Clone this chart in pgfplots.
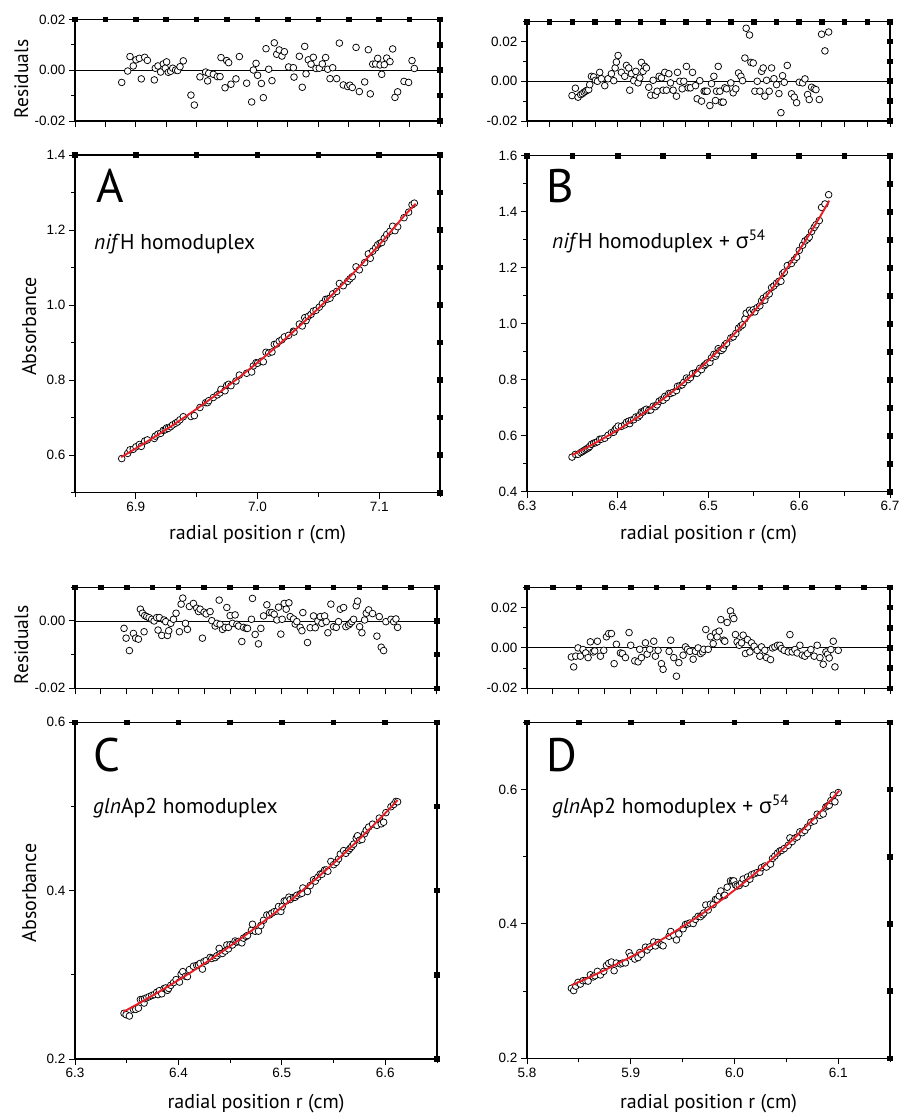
\documentclass[border=0pt]{standalone}
\usepackage{pgfplots}
\pgfplotsset{compat=1.18}
\usepackage{fontspec}
\setmainfont{Liberation Sans}
\newfontfamily\lab{PT Sans}
\newfontfamily\grk{Open Sans}
\definecolor{fitred}{RGB}{232,30,38}
\pgfplotsset{
 base/.style={scale only axis, anchor=south west, axis line style={line width=1.2pt},
   tick style={line width=1pt,black}, tick align=outside, major tick length=6pt, minor tick length=4pt,
   xtick pos=left, ytick pos=left, ticklabel style={font=\fontsize{13.5}{14}\selectfont},
   scaled x ticks=false, scaled y ticks=false, clip marker paths=true},
 sq/.style={scale only axis, anchor=south west, axis line style={draw=none},
   xtick pos=right, ytick pos=right, tick align=center, major tick length=5.6pt,
   tick style={line width=5.6pt,black}, xticklabels={}, yticklabels={}, minor tick num=0,
   scaled x ticks=false, scaled y ticks=false},
 dat/.style={only marks, mark=*, mark size=3.35pt, mark options={fill=white, draw=black, line width=0.75pt}},
 fit/.style={fitred, line width=1.9pt, smooth, no marks},
 zero/.style={black, line width=0.9pt, no marks}
}
\begin{document}
\begin{tikzpicture}
\useasboundingbox (0pt,0pt) rectangle (901pt,-1114pt);
% ================= A residuals
\begin{axis}[base, at={(75pt,-121pt)}, width=365pt, height=101.5pt, xmin=6.85, xmax=7.15, ymin=-0.02, ymax=0.02,
 xtick={6.85,6.875,6.9,6.925,6.95,6.975,7.0,7.025,7.05,7.075,7.1,7.125,7.15}, xticklabels={},
 ytick={-0.02,0,0.02}, yticklabels={-0.02,0.00,0.02}, minor ytick={-0.01,0.01}]
\addplot[zero] coordinates {(6.85,0) (7.15,0)};
\addplot[dat] coordinates {(6.8884,-0.0048) (6.8933,-0.0003) (6.8952,0.0054) (6.8979,0.0017) (6.9001,0.0041) (6.9029,0.0047) (6.9045,-0.0034) (6.9073,0.0051) (6.9095,0.0039) (6.9152,-0.0038) (6.9160,0.0008) (6.9182,0.0017) (6.9204,-0.0007) (6.9226,0.0025) (6.9242,0.0008) (6.9253,0.0033) (6.9267,-0.0008) (6.9286,-0.0004) (6.9303,0.0008) (6.9327,0.0001) (6.9344,-0.0001) (6.9363,0.0014) (6.9390,0.0037) (6.9453,-0.0098) (6.9481,-0.0137) (6.9527,-0.0026) (6.9574,-0.0007) (6.9590,-0.0042) (6.9599,-0.0012) (6.9637,-0.0016) (6.9670,-0.0025) (6.9692,-0.0025) (6.9700,0.0050) (6.9733,-0.0069) (6.9747,0.0038) (6.9763,0.0030) (6.9782,-0.0055) (6.9823,-0.0034) (6.9851,0.0054) (6.9911,-0.0051) (6.9952,-0.0125) (6.9966,0.0001) (6.9988,0.0027) (7.0001,-0.0020) (7.0032,-0.0052) (7.0048,-0.0108) (7.0070,0.0085) (7.0092,0.0004) (7.0119,-0.0041) (7.0138,0.0108) (7.0158,0.0063) (7.0179,0.0080) (7.0201,0.0056) (7.0221,0.0073) (7.0256,0.0013) (7.0295,0.0010) (7.0300,-0.0027) (7.0344,0.0055) (7.0368,-0.0067) (7.0388,0.0094) (7.0399,-0.0014) (7.0418,0.0041) (7.0440,0.0024) (7.0459,0.0051) (7.0481,0.0007) (7.0508,0.0008) (7.0533,0.0025) (7.0560,0.0050) (7.0577,0.0004) (7.0596,-0.0033) (7.0618,0.0010) (7.0651,-0.0033) (7.0673,0.0107) (7.0705,-0.0058) (7.0741,-0.0064) (7.0760,-0.0059) (7.0779,-0.0068) (7.0810,0.0090) (7.0837,-0.0084) (7.0881,-0.0046) (7.0911,0.0081) (7.0927,-0.0093) (7.0947,0.0024) (7.0971,0.0025) (7.0988,0.0047) (7.1007,0.0021) (7.1021,-0.0016) (7.1042,0.0022) (7.1062,0.0048) (7.1089,0.0034) (7.1111,0.0084) (7.1130,-0.0107) (7.1152,-0.0085) (7.1204,-0.0044) (7.1242,-0.0048) (7.1270,0.0038) (7.1289,0.0007)};
\end{axis}
\begin{axis}[sq, at={(75pt,-121pt)}, width=365pt, height=101.5pt, xmin=6.85, xmax=7.15, ymin=-0.02, ymax=0.02,
 xtick={6.85,6.875,6.9,6.925,6.95,6.975,7.0,7.025,7.05,7.075,7.1,7.125,7.15}, ytick={-0.02,-0.01,0,0.01,0.02}]
\addplot[draw=none] coordinates {(6.9,0)};
\end{axis}
% ================= A main
\begin{axis}[base, at={(75pt,-492.7pt)}, width=365pt, height=337.7pt, xmin=6.85, xmax=7.15, ymin=0.5, ymax=1.4,
 xtick={6.9,7.0,7.1}, xticklabels={6.9,7.0,7.1}, minor xtick={6.85,6.95,7.05,7.15},
 ytick={0.6,0.8,1.0,1.2,1.4}, yticklabels={0.6,0.8,1.0,1.2,1.4}, minor ytick={0.5,0.7,0.9,1.1,1.3}]
\addplot[dat] coordinates {(6.8884,0.5910) (6.8933,0.6048) (6.8952,0.6142) (6.8979,0.6157) (6.9001,0.6223) (6.9029,0.6284) (6.9045,0.6235) (6.9073,0.6376) (6.9095,0.6407) (6.9152,0.6446) (6.9160,0.6508) (6.9182,0.6562) (6.9204,0.6583) (6.9226,0.6662) (6.9242,0.6678) (6.9253,0.6726) (6.9267,0.6715) (6.9286,0.6759) (6.9303,0.6807) (6.9327,0.6852) (6.9344,0.6887) (6.9363,0.6943) (6.9390,0.7025) (6.9453,0.7031) (6.9481,0.7054) (6.9527,0.7271) (6.9574,0.7399) (6.9590,0.7401) (6.9599,0.7452) (6.9637,0.7538) (6.9670,0.7608) (6.9692,0.7661) (6.9700,0.7755) (6.9733,0.7717) (6.9747,0.7859) (6.9763,0.7890) (6.9782,0.7852) (6.9823,0.7976) (6.9851,0.8135) (6.9911,0.8184) (6.9952,0.8217) (6.9966,0.8380) (6.9988,0.8464) (7.0001,0.8451) (7.0032,0.8503) (7.0048,0.8490) (7.0070,0.8743) (7.0092,0.8721) (7.0119,0.8751) (7.0138,0.8953) (7.0158,0.8964) (7.0179,0.9040) (7.0201,0.9078) (7.0221,0.9153) (7.0256,0.9194) (7.0295,0.9304) (7.0300,0.9281) (7.0344,0.9494) (7.0368,0.9444) (7.0388,0.9664) (7.0399,0.9589) (7.0418,0.9702) (7.0440,0.9753) (7.0459,0.9838) (7.0481,0.9862) (7.0508,0.9946) (7.0533,1.0043) (7.0560,1.0153) (7.0577,1.0161) (7.0596,1.0184) (7.0618,1.0299) (7.0651,1.0364) (7.0673,1.0576) (7.0705,1.0516) (7.0741,1.0632) (7.0760,1.0701) (7.0779,1.0756) (7.0810,1.1020) (7.0837,1.0940) (7.0881,1.1132) (7.0911,1.1365) (7.0927,1.1248) (7.0947,1.1437) (7.0971,1.1525) (7.0988,1.1608) (7.1007,1.1651) (7.1021,1.1666) (7.1042,1.1782) (7.1062,1.1882) (7.1089,1.1968) (7.1111,1.2101) (7.1130,1.1983) (7.1152,1.2089) (7.1204,1.2330) (7.1242,1.2476) (7.1270,1.2673) (7.1289,1.2717)};
\addplot[fit] coordinates {(6.888,0.5951) (6.89,0.5988) (6.90,0.6180) (6.91,0.6378) (6.92,0.6582) (6.93,0.6792) (6.94,0.7010) (6.95,0.7234) (6.96,0.7466) (6.97,0.7705) (6.98,0.7951) (6.99,0.8206) (7.00,0.8468) (7.01,0.8739) (7.02,0.9019) (7.03,0.9308) (7.04,0.9606) (7.05,0.9913) (7.06,1.0230) (7.07,1.0557) (7.08,1.0895) (7.09,1.1244) (7.10,1.1604) (7.11,1.1975) (7.12,1.2358) (7.13,1.2700)};
\end{axis}
\begin{axis}[sq, at={(75pt,-492.7pt)}, width=365pt, height=337.7pt, xmin=6.85, xmax=7.15, ymin=0.5, ymax=1.4,
 xtick={6.85,6.9,6.95,7.0,7.05,7.1,7.15}, ytick={0.5,0.6,0.7,0.8,0.9,1.0,1.1,1.2,1.3,1.4}]
\addplot[draw=none] coordinates {(6.9,0.6)};
\end{axis}
% ================= B residuals
\begin{axis}[base, at={(527pt,-121pt)}, width=363pt, height=99.3pt, xmin=6.3, xmax=6.7, ymin=-0.02, ymax=0.03,
 xtick={6.3,6.325,6.35,6.375,6.4,6.425,6.45,6.475,6.5,6.525,6.55,6.575,6.6,6.625,6.65,6.675,6.7}, xticklabels={},
 ytick={-0.02,0,0.02}, yticklabels={-0.02,0.00,0.02}, minor ytick={-0.01,0.01,0.03}]
\addplot[zero] coordinates {(6.3,0) (6.7,0)};
\addplot[dat] coordinates {(6.3496,-0.0072) (6.3533,-0.0035) (6.3563,-0.0080) (6.3592,-0.0067) (6.3610,-0.0062) (6.3629,-0.0055) (6.3647,-0.0050) (6.3662,-0.0045) (6.3680,-0.0042) (6.3691,-0.0017) (6.3710,0.0025) (6.3735,0.0022) (6.3754,0.0005) (6.3776,0.0000) (6.3801,0.0045) (6.3820,0.0013) (6.3857,-0.0022) (6.3893,0.0013) (6.3930,0.0038) (6.3956,0.0003) (6.3971,0.0067) (6.3985,0.0097) (6.4004,0.0130) (6.4040,0.0045) (6.4077,0.0025) (6.4096,0.0080) (6.4121,0.0067) (6.4132,-0.0045) (6.4151,0.0038) (6.4176,0.0003) (6.4199,0.0050) (6.4224,-0.0008) (6.4243,0.0017) (6.4261,0.0095) (6.4279,0.0050) (6.4298,0.0075) (6.4316,0.0067) (6.4342,-0.0030) (6.4364,-0.0070) (6.4390,0.0005) (6.4415,-0.0070) (6.4434,-0.0050) (6.4456,0.0025) (6.4482,0.0017) (6.4500,-0.0045) (6.4518,0.0045) (6.4537,-0.0045) (6.4563,0.0038) (6.4581,-0.0008) (6.4610,-0.0045) (6.4647,-0.0075) (6.4658,0.0045) (6.4684,0.0000) (6.4710,-0.0038) (6.4728,0.0000) (6.4757,0.0075) (6.4776,-0.0033) (6.4801,-0.0033) (6.4824,0.0045) (6.4857,-0.0022) (6.4875,-0.0088) (6.4904,0.0003) (6.4923,-0.0100) (6.4952,-0.0050) (6.4967,-0.0050) (6.4985,-0.0050) (6.5015,-0.0122) (6.5033,-0.0012) (6.5059,0.0025) (6.5077,-0.0097) (6.5088,-0.0050) (6.5107,0.0075) (6.5125,-0.0050) (6.5143,-0.0105) (6.5162,-0.0105) (6.5180,-0.0033) (6.5199,-0.0038) (6.5246,-0.0008) (6.5272,-0.0058) (6.5301,-0.0038) (6.5331,0.0042) (6.5357,0.0025) (6.5375,0.0003) (6.5401,0.0117) (6.5415,0.0267) (6.5452,0.0233) (6.5467,0.0095) (6.5493,0.0092) (6.5511,-0.0050) (6.5537,0.0000) (6.5566,-0.0050) (6.5585,0.0050) (6.5603,0.0067) (6.5621,-0.0075) (6.5640,0.0005) (6.5669,-0.0050) (6.5695,0.0067) (6.5721,0.0013) (6.5750,-0.0017) (6.5776,-0.0062) (6.5798,-0.0158) (6.5816,0.0028) (6.5835,-0.0005) (6.5868,0.0080) (6.5915,-0.0063) (6.5945,-0.0080) (6.5971,-0.0108) (6.6000,-0.0005) (6.6037,-0.0008) (6.6063,0.0012) (6.6092,-0.0067) (6.6110,-0.0092) (6.6136,-0.0030) (6.6165,-0.0038) (6.6184,-0.0042) (6.6221,-0.0092) (6.6246,0.0237) (6.6283,0.0153) (6.6324,0.0248)};
\end{axis}
\begin{axis}[sq, at={(527pt,-121pt)}, width=363pt, height=99.3pt, xmin=6.3, xmax=6.7, ymin=-0.02, ymax=0.03,
 xtick={6.3,6.325,6.35,6.375,6.4,6.425,6.45,6.475,6.5,6.525,6.55,6.575,6.6,6.625,6.65,6.675,6.7}, ytick={-0.02,-0.01,0,0.01,0.02,0.03}]
\addplot[draw=none] coordinates {(6.4,0)};
\end{axis}
% ================= B main
\begin{axis}[base, at={(527pt,-491.7pt)}, width=363pt, height=336pt, xmin=6.3, xmax=6.7, ymin=0.4, ymax=1.6,
 xtick={6.3,6.4,6.5,6.6,6.7}, xticklabels={6.3,6.4,6.5,6.6,6.7}, minor xtick={6.35,6.45,6.55,6.65},
 ytick={0.4,0.6,0.8,1.0,1.2,1.4,1.6}, yticklabels={0.4,0.6,0.8,1.0,1.2,1.4,1.6}, minor ytick={0.5,0.7,0.9,1.1,1.3,1.5}]
\addplot[dat] coordinates {(6.3496,0.5236) (6.3533,0.5334) (6.3563,0.5338) (6.3592,0.5399) (6.3610,0.5434) (6.3629,0.5473) (6.3647,0.5509) (6.3662,0.5539) (6.3680,0.5573) (6.3691,0.5617) (6.3710,0.5692) (6.3735,0.5733) (6.3754,0.5750) (6.3776,0.5784) (6.3801,0.5874) (6.3820,0.5877) (6.3857,0.5911) (6.3893,0.6013) (6.3930,0.6109) (6.3956,0.6124) (6.3971,0.6217) (6.3985,0.6274) (6.4004,0.6344) (6.4040,0.6332) (6.4077,0.6387) (6.4096,0.6481) (6.4121,0.6520) (6.4132,0.6432) (6.4151,0.6555) (6.4176,0.6572) (6.4199,0.6668) (6.4224,0.6665) (6.4243,0.6732) (6.4261,0.6850) (6.4279,0.6845) (6.4298,0.6912) (6.4316,0.6945) (6.4342,0.6908) (6.4364,0.6918) (6.4390,0.7053) (6.4415,0.7037) (6.4434,0.7103) (6.4456,0.7231) (6.4482,0.7286) (6.4500,0.7267) (6.4518,0.7403) (6.4537,0.7361) (6.4563,0.7509) (6.4581,0.7509) (6.4610,0.7546) (6.4647,0.7614) (6.4658,0.7763) (6.4684,0.7786) (6.4710,0.7818) (6.4728,0.7905) (6.4757,0.8060) (6.4776,0.8004) (6.4801,0.8073) (6.4824,0.8217) (6.4857,0.8246) (6.4875,0.8232) (6.4904,0.8407) (6.4923,0.8361) (6.4952,0.8499) (6.4967,0.8544) (6.4985,0.8599) (6.5015,0.8619) (6.5033,0.8786) (6.5059,0.8905) (6.5077,0.8840) (6.5088,0.8922) (6.5107,0.9108) (6.5125,0.9043) (6.5143,0.9047) (6.5162,0.9110) (6.5180,0.9241) (6.5199,0.9299) (6.5246,0.9491) (6.5272,0.9531) (6.5301,0.9652) (6.5331,0.9841) (6.5357,0.9918) (6.5375,0.9961) (6.5401,1.0170) (6.5415,1.0373) (6.5452,1.0480) (6.5467,1.0399) (6.5493,1.0494) (6.5511,1.0423) (6.5537,1.0576) (6.5566,1.0642) (6.5585,1.0817) (6.5603,1.0907) (6.5621,1.0840) (6.5640,1.0999) (6.5669,1.1065) (6.5695,1.1291) (6.5721,1.1350) (6.5750,1.1447) (6.5776,1.1516) (6.5798,1.1516) (6.5816,1.1784) (6.5835,1.1839) (6.5868,1.2075) (6.5915,1.2151) (6.5945,1.2279) (6.5971,1.2376) (6.6000,1.2619) (6.6037,1.2803) (6.6063,1.2955) (6.6092,1.3023) (6.6110,1.3091) (6.6136,1.3291) (6.6165,1.3437) (6.6184,1.3533) (6.6221,1.3685) (6.6246,1.4154) (6.6283,1.4276) (6.6324,1.4607)};
\addplot[fit] coordinates {(6.3496,0.5308) (6.36,0.5479) (6.37,0.5649) (6.38,0.5827) (6.39,0.6013) (6.40,0.6206) (6.41,0.6409) (6.42,0.6620) (6.43,0.6841) (6.44,0.7071) (6.45,0.7312) (6.46,0.7565) (6.47,0.7828) (6.48,0.8103) (6.49,0.8392) (6.50,0.8694) (6.51,0.9010) (6.52,0.9340) (6.53,0.9686) (6.54,1.0049) (6.55,1.0429) (6.56,1.0827) (6.57,1.1245) (6.58,1.1683) (6.59,1.2142) (6.60,1.2624) (6.61,1.3130) (6.62,1.3660) (6.63,1.4218) (6.633,1.4394)};
\end{axis}
\begin{axis}[sq, at={(527pt,-491.7pt)}, width=363pt, height=336pt, xmin=6.3, xmax=6.7, ymin=0.4, ymax=1.6,
 xtick={6.3,6.35,6.4,6.45,6.5,6.55,6.6,6.65,6.7}, ytick={0.4,0.5,0.6,0.7,0.8,0.9,1.0,1.1,1.2,1.3,1.4,1.5,1.6}]
\addplot[draw=none] coordinates {(6.4,0.6)};
\end{axis}
% ================= C residuals
\begin{axis}[base, at={(75pt,-688.3pt)}, width=362pt, height=101pt, xmin=6.3, xmax=6.65, ymin=-0.02, ymax=0.01,
 xtick={6.3,6.325,6.35,6.375,6.4,6.425,6.45,6.475,6.5,6.525,6.55,6.575,6.6,6.625,6.65}, xticklabels={},
 ytick={-0.02,0}, yticklabels={-0.02,0.00}, minor ytick={-0.01,0.01}]
\addplot[zero] coordinates {(6.3,0) (6.65,0)};
\addplot[dat] coordinates {(6.3474,-0.0022) (6.3494,-0.0051) (6.3526,-0.0088) (6.3565,-0.0037) (6.3587,-0.0051) (6.3613,-0.0054) (6.3632,0.0035) (6.3652,0.0023) (6.3668,-0.0032) (6.3674,0.0016) (6.3694,0.0013) (6.3716,0.0010) (6.3742,0.0005) (6.3765,0.0000) (6.3790,0.0010) (6.3803,-0.0027) (6.3816,0.0010) (6.3839,-0.0043) (6.3861,0.0003) (6.3877,-0.0002) (6.3894,-0.0043) (6.3906,-0.0029) (6.3926,-0.0007) (6.3952,0.0005) (6.3977,0.0023) (6.4010,-0.0032) (6.4026,0.0050) (6.4042,0.0068) (6.4068,-0.0007) (6.4087,-0.0025) (6.4106,0.0043) (6.4145,0.0052) (6.4177,0.0038) (6.4194,0.0028) (6.4210,0.0035) (6.4232,-0.0051) (6.4248,0.0026) (6.4268,0.0021) (6.4306,0.0028) (6.4323,0.0001) (6.4355,-0.0015) (6.4371,-0.0007) (6.4394,0.0062) (6.4403,-0.0010) (6.4426,-0.0025) (6.4452,-0.0019) (6.4468,0.0040) (6.4484,-0.0019) (6.4500,0.0016) (6.4523,-0.0007) (6.4548,0.0018) (6.4565,-0.0010) (6.4581,-0.0015) (6.4613,-0.0061) (6.4629,-0.0019) (6.4655,-0.0022) (6.4668,-0.0022) (6.4706,0.0005) (6.4716,0.0067) (6.4742,-0.0040) (6.4774,-0.0068) (6.4797,-0.0022) (6.4823,0.0015) (6.4855,0.0048) (6.4881,0.0025) (6.4903,0.0025) (6.4926,0.0020) (6.4952,0.0003) (6.4968,0.0041) (6.4990,-0.0039) (6.5003,0.0005) (6.5023,0.0052) (6.5042,0.0035) (6.5068,0.0054) (6.5081,0.0013) (6.5113,0.0006) (6.5129,-0.0009) (6.5145,-0.0002) (6.5177,-0.0019) (6.5194,-0.0029) (6.5203,0.0025) (6.5248,-0.0064) (6.5274,-0.0020) (6.5306,0.0015) (6.5323,-0.0020) (6.5348,0.0000) (6.5371,0.0013) (6.5387,-0.0007) (6.5413,0.0015) (6.5429,-0.0002) (6.5445,-0.0035) (6.5474,0.0050) (6.5500,-0.0017) (6.5526,-0.0019) (6.5548,-0.0002) (6.5565,0.0035) (6.5597,0.0040) (6.5619,-0.0017) (6.5645,-0.0012) (6.5661,-0.0007) (6.5677,-0.0002) (6.5694,0.0005) (6.5719,0.0045) (6.5732,0.0059) (6.5752,-0.0017) (6.5774,-0.0035) (6.5800,0.0003) (6.5816,0.0023) (6.5839,0.0033) (6.5877,0.0022) (6.5919,-0.0045) (6.5942,0.0013) (6.5961,-0.0078) (6.5984,-0.0088) (6.6006,-0.0002) (6.6055,0.0005) (6.6081,-0.0002) (6.6103,0.0006) (6.6119,-0.0019)};
\end{axis}
\begin{axis}[sq, at={(75pt,-688.3pt)}, width=362pt, height=101pt, xmin=6.3, xmax=6.65, ymin=-0.02, ymax=0.01,
 xtick={6.3,6.325,6.35,6.375,6.4,6.425,6.45,6.475,6.5,6.525,6.55,6.575,6.6,6.625,6.65}, ytick={-0.02,-0.01,0,0.01}]
\addplot[draw=none] coordinates {(6.4,0)};
\end{axis}
% ================= C main
\begin{axis}[base, at={(75pt,-1059pt)}, width=362pt, height=336.7pt, xmin=6.3, xmax=6.65, ymin=0.2, ymax=0.6,
 xtick={6.3,6.4,6.5,6.6}, xticklabels={6.3,6.4,6.5,6.6}, minor xtick={6.35,6.45,6.55,6.65},
 ytick={0.2,0.4,0.6}, yticklabels={0.2,0.4,0.6}, minor ytick={0.3,0.5}]
\addplot[dat] coordinates {(6.3474,0.2543) (6.3494,0.2527) (6.3526,0.2511) (6.3565,0.2589) (6.3587,0.2589) (6.3613,0.2604) (6.3632,0.2706) (6.3652,0.2708) (6.3668,0.2665) (6.3674,0.2717) (6.3694,0.2728) (6.3716,0.2740) (6.3742,0.2754) (6.3765,0.2765) (6.3790,0.2793) (6.3803,0.2765) (6.3816,0.2812) (6.3839,0.2775) (6.3861,0.2838) (6.3877,0.2844) (6.3894,0.2816) (6.3906,0.2839) (6.3926,0.2876) (6.3952,0.2907) (6.3977,0.2944) (6.4010,0.2914) (6.4026,0.3008) (6.4042,0.3038) (6.4068,0.2983) (6.4087,0.2979) (6.4106,0.3062) (6.4145,0.3102) (6.4177,0.3113) (6.4194,0.3116) (6.4210,0.3136) (6.4232,0.3068) (6.4248,0.3158) (6.4268,0.3169) (6.4306,0.3207) (6.4323,0.3194) (6.4355,0.3205) (6.4371,0.3226) (6.4394,0.3314) (6.4403,0.3250) (6.4426,0.3254) (6.4452,0.3282) (6.4468,0.3355) (6.4484,0.3309) (6.4500,0.3358) (6.4523,0.3355) (6.4548,0.3402) (6.4565,0.3389) (6.4581,0.3397) (6.4613,0.3380) (6.4629,0.3436) (6.4655,0.3457) (6.4668,0.3468) (6.4706,0.3530) (6.4716,0.3601) (6.4742,0.3518) (6.4774,0.3519) (6.4797,0.3586) (6.4823,0.3648) (6.4855,0.3711) (6.4881,0.3712) (6.4903,0.3733) (6.4926,0.3750) (6.4952,0.3758) (6.4968,0.3812) (6.4990,0.3753) (6.5003,0.3810) (6.5023,0.3877) (6.5042,0.3879) (6.5068,0.3923) (6.5081,0.3895) (6.5113,0.3920) (6.5129,0.3922) (6.5145,0.3945) (6.5177,0.3961) (6.5194,0.3969) (6.5203,0.4032) (6.5248,0.3990) (6.5274,0.4061) (6.5306,0.4129) (6.5323,0.4113) (6.5348,0.4160) (6.5371,0.4198) (6.5387,0.4195) (6.5413,0.4245) (6.5429,0.4246) (6.5445,0.4231) (6.5474,0.4347) (6.5500,0.4309) (6.5526,0.4336) (6.5548,0.4378) (6.5565,0.4434) (6.5597,0.4476) (6.5619,0.4444) (6.5645,0.4479) (6.5661,0.4503) (6.5677,0.4526) (6.5694,0.4553) (6.5719,0.4623) (6.5732,0.4652) (6.5752,0.4600) (6.5774,0.4608) (6.5800,0.4677) (6.5816,0.4717) (6.5839,0.4755) (6.5877,0.4790) (6.5919,0.4775) (6.5942,0.4862) (6.5961,0.4794) (6.5984,0.4813) (6.6006,0.4927) (6.6055,0.4997) (6.6081,0.5023) (6.6103,0.5060) (6.6119,0.5056)};
\addplot[fit] coordinates {(6.347,0.2562) (6.35,0.2582) (6.36,0.2649) (6.37,0.2719) (6.38,0.2790) (6.39,0.2863) (6.40,0.2938) (6.41,0.3014) (6.42,0.3093) (6.43,0.3174) (6.44,0.3257) (6.45,0.3342) (6.46,0.3429) (6.47,0.3519) (6.48,0.3611) (6.49,0.3705) (6.50,0.3802) (6.51,0.3901) (6.52,0.4004) (6.53,0.4108) (6.54,0.4216) (6.55,0.4326) (6.56,0.4439) (6.57,0.4555) (6.58,0.4674) (6.59,0.4796) (6.60,0.4921) (6.61,0.5050) (6.612,0.5076)};
\end{axis}
\begin{axis}[sq, at={(75pt,-1059pt)}, width=362pt, height=336.7pt, xmin=6.3, xmax=6.65, ymin=0.2, ymax=0.6,
 xtick={6.3,6.35,6.4,6.45,6.5,6.55,6.6,6.65}, ytick={0.2,0.3,0.4,0.5,0.6}]
\addplot[draw=none] coordinates {(6.4,0.3)};
\end{axis}
% ================= D residuals
\begin{axis}[base, at={(527pt,-688.3pt)}, width=363pt, height=101pt, xmin=5.8, xmax=6.15, ymin=-0.02, ymax=0.03,
 xtick={5.8,5.825,5.85,5.875,5.9,5.925,5.95,5.975,6.0,6.025,6.05,6.075,6.1,6.125,6.15}, xticklabels={},
 ytick={-0.02,0,0.02}, yticklabels={-0.02,0.00,0.02}, minor ytick={-0.01,0.01,0.03}]
\addplot[zero] coordinates {(5.8,0) (6.15,0)};
\addplot[dat] coordinates {(5.8428,-0.0045) (5.8450,-0.0094) (5.8470,-0.0041) (5.8492,0.0000) (5.8515,-0.0041) (5.8540,-0.0008) (5.8566,-0.0025) (5.8589,-0.0048) (5.8611,0.0030) (5.8637,-0.0020) (5.8653,-0.0015) (5.8679,0.0033) (5.8708,-0.0041) (5.8740,-0.0012) (5.8766,0.0055) (5.8788,0.0071) (5.8814,0.0071) (5.8840,-0.0078) (5.8862,0.0018) (5.8901,-0.0025) (5.8920,-0.0028) (5.8949,-0.0048) (5.8984,0.0076) (5.9000,0.0013) (5.9039,-0.0064) (5.9071,-0.0069) (5.9087,-0.0007) (5.9103,-0.0048) (5.9142,0.0025) (5.9158,-0.0031) (5.9184,-0.0007) (5.9222,0.0033) (5.9238,-0.0041) (5.9264,-0.0012) (5.9296,-0.0078) (5.9312,-0.0106) (5.9370,-0.0017) (5.9386,0.0038) (5.9415,-0.0048) (5.9441,-0.0140) (5.9464,-0.0073) (5.9505,-0.0036) (5.9528,0.0005) (5.9547,-0.0007) (5.9570,-0.0017) (5.9602,-0.0056) (5.9624,-0.0017) (5.9650,0.0000) (5.9673,-0.0028) (5.9692,-0.0020) (5.9705,-0.0007) (5.9724,0.0091) (5.9747,-0.0007) (5.9769,0.0055) (5.9795,0.0021) (5.9817,0.0074) (5.9833,0.0055) (5.9853,0.0083) (5.9869,0.0140) (5.9898,0.0038) (5.9907,0.0033) (5.9930,0.0126) (5.9962,0.0183) (5.9981,0.0157) (5.9994,0.0145) (6.0010,0.0066) (6.0026,0.0030) (6.0046,0.0013) (6.0068,0.0025) (6.0084,0.0063) (6.0107,-0.0028) (6.0126,0.0041) (6.0149,-0.0020) (6.0165,0.0025) (6.0190,0.0008) (6.0219,-0.0012) (6.0245,-0.0041) (6.0261,0.0005) (6.0293,-0.0012) (6.0309,-0.0048) (6.0348,-0.0058) (6.0367,0.0000) (6.0390,0.0005) (6.0416,0.0013) (6.0438,0.0013) (6.0454,-0.0003) (6.0480,-0.0012) (6.0519,-0.0020) (6.0535,0.0066) (6.0557,-0.0020) (6.0583,-0.0008) (6.0605,-0.0025) (6.0631,0.0013) (6.0654,-0.0036) (6.0679,-0.0041) (6.0705,-0.0028) (6.0737,-0.0008) (6.0769,-0.0041) (6.0798,0.0013) (6.0824,-0.0048) (6.0856,-0.0081) (6.0882,-0.0020) (6.0898,-0.0031) (6.0914,-0.0050) (6.0930,-0.0008) (6.0953,0.0033) (6.0969,-0.0094) (6.1001,-0.0012)};
\end{axis}
\begin{axis}[sq, at={(527pt,-688.3pt)}, width=363pt, height=101pt, xmin=5.8, xmax=6.15, ymin=-0.02, ymax=0.03,
 xtick={5.8,5.825,5.85,5.875,5.9,5.925,5.95,5.975,6.0,6.025,6.05,6.075,6.1,6.125,6.15}, ytick={-0.02,-0.01,0,0.01,0.02,0.03}]
\addplot[draw=none] coordinates {(5.9,0)};
\end{axis}
% ================= D main
\begin{axis}[base, at={(527pt,-1058.3pt)}, width=363pt, height=336pt, xmin=5.8, xmax=6.15, ymin=0.2, ymax=0.7,
 xtick={5.8,5.9,6.0,6.1}, xticklabels={5.8,5.9,6.0,6.1}, minor xtick={5.85,5.95,6.05,6.15},
 ytick={0.2,0.4,0.6}, yticklabels={0.2,0.4,0.6}, minor ytick={0.3,0.5,0.7}]
\addplot[dat] coordinates {(5.8428,0.3042) (5.8450,0.3008) (5.8470,0.3074) (5.8492,0.3130) (5.8515,0.3105) (5.8540,0.3155) (5.8566,0.3156) (5.8589,0.3149) (5.8611,0.3243) (5.8637,0.3211) (5.8653,0.3228) (5.8679,0.3294) (5.8708,0.3241) (5.8740,0.3294) (5.8766,0.3381) (5.8788,0.3413) (5.8814,0.3433) (5.8840,0.3304) (5.8862,0.3417) (5.8901,0.3405) (5.8920,0.3417) (5.8949,0.3420) (5.8984,0.3572) (5.9000,0.3522) (5.9039,0.3477) (5.9071,0.3499) (5.9087,0.3574) (5.9103,0.3547) (5.9142,0.3654) (5.9158,0.3611) (5.9184,0.3658) (5.9222,0.3732) (5.9238,0.3672) (5.9264,0.3725) (5.9296,0.3687) (5.9312,0.3674) (5.9370,0.3817) (5.9386,0.3887) (5.9415,0.3829) (5.9441,0.3762) (5.9464,0.3851) (5.9505,0.3928) (5.9528,0.3992) (5.9547,0.3999) (5.9570,0.4013) (5.9602,0.4006) (5.9624,0.4068) (5.9650,0.4112) (5.9673,0.4108) (5.9692,0.4136) (5.9705,0.4162) (5.9724,0.4281) (5.9747,0.4208) (5.9769,0.4294) (5.9795,0.4288) (5.9817,0.4365) (5.9833,0.4364) (5.9853,0.4415) (5.9869,0.4490) (5.9898,0.4421) (5.9907,0.4426) (5.9930,0.4546) (5.9962,0.4641) (5.9981,0.4637) (5.9994,0.4640) (6.0010,0.4580) (6.0026,0.4564) (6.0046,0.4571) (6.0068,0.4610) (6.0084,0.4667) (6.0107,0.4605) (6.0126,0.4698) (6.0149,0.4666) (6.0165,0.4732) (6.0190,0.4746) (6.0219,0.4764) (6.0245,0.4769) (6.0261,0.4836) (6.0293,0.4861) (6.0309,0.4846) (6.0348,0.4890) (6.0367,0.4974) (6.0390,0.5010) (6.0416,0.5055) (6.0438,0.5086) (6.0454,0.5093) (6.0480,0.5121) (6.0519,0.5170) (6.0535,0.5280) (6.0557,0.5226) (6.0583,0.5277) (6.0605,0.5293) (6.0631,0.5370) (6.0654,0.5357) (6.0679,0.5390) (6.0705,0.5443) (6.0737,0.5514) (6.0769,0.5532) (6.0798,0.5633) (6.0824,0.5615) (6.0856,0.5636) (6.0882,0.5741) (6.0898,0.5757) (6.0914,0.5765) (6.0930,0.5835) (6.0953,0.5916) (6.0969,0.5817) (6.1001,0.5955)};
\addplot[fit] coordinates {(5.843,0.3088) (5.85,0.3135) (5.86,0.3205) (5.87,0.3276) (5.88,0.3351) (5.89,0.3429) (5.90,0.3509) (5.91,0.3592) (5.92,0.3679) (5.93,0.3769) (5.94,0.3862) (5.95,0.3959) (5.96,0.4060) (5.97,0.4164) (5.98,0.4272) (5.99,0.4385) (6.00,0.4502) (6.01,0.4624) (6.02,0.4751) (6.03,0.4882) (6.04,0.5019) (6.05,0.5162) (6.06,0.5310) (6.07,0.5463) (6.08,0.5623) (6.09,0.5791) (6.10,0.5965) (6.101,0.5982)};
\end{axis}
\begin{axis}[sq, at={(527pt,-1058.3pt)}, width=363pt, height=336pt, xmin=5.8, xmax=6.15, ymin=0.2, ymax=0.7,
 xtick={5.8,5.85,5.9,5.95,6.0,6.05,6.1,6.15}, ytick={0.2,0.3,0.4,0.5,0.6,0.7}]
\addplot[draw=none] coordinates {(5.9,0.3)};
\end{axis}
% ================= texts
\tikzset{lt/.style={font=\lab\fontsize{20}{20}\selectfont, inner sep=0pt},
         st/.style={font=\lab\fontsize{21.5}{21.5}\selectfont, inner sep=0pt, anchor=base west},
         bl/.style={font=\lab\fontsize{47}{47}\selectfont, inner sep=0pt, anchor=base west}}
\node[lt, anchor=base] at (257.5pt,-539pt) {radial position r (cm)};
\node[lt, anchor=base] at (708.5pt,-539pt) {radial position r (cm)};
\node[lt, anchor=base] at (256pt,-1108pt) {radial position r (cm)};
\node[lt, anchor=base] at (708.5pt,-1108pt) {radial position r (cm)};
\node[lt, anchor=base, rotate=90] at (36pt,-326.5pt) {Absorbance};
\node[lt, anchor=base, rotate=90] at (36pt,-893pt) {Absorbance};
\node[lt, anchor=base, rotate=90, font=\lab\fontsize{19.5}{20}\selectfont] at (28pt,-79pt) {Residuals};
\node[lt, anchor=base, rotate=90, font=\lab\fontsize{19.5}{20}\selectfont] at (28pt,-645pt) {Residuals};
\node[bl] at (96pt,-202.5pt) {A};
\node[bl] at (546pt,-202pt) {B};
\node[bl] at (93pt,-771.5pt) {C};
\node[bl] at (546pt,-771.5pt) {D};
\node[st] at (94pt,-249.5pt) {\textit{nif}H homoduplex};
\node[st] at (552pt,-248.5pt) {\textit{nif}H homoduplex + {\grk σ}\textsuperscript{54}};
\node[st] at (93pt,-813pt) {\textit{gln}Ap2 homoduplex};
\node[st] at (552pt,-813pt) {\textit{gln}Ap2 homoduplex + {\grk σ}\textsuperscript{54}};
\end{tikzpicture}
\end{document}
